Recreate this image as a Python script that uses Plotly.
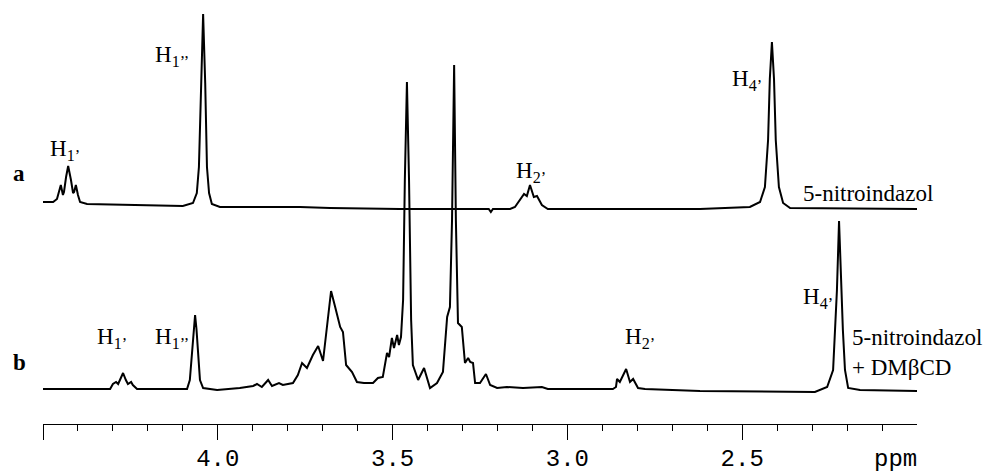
import plotly.graph_objects as go

# spectrum a: 5-nitroindazol (ppm, intensity relative to its own baseline)
ppm_a = [4.500, 4.471, 4.460, 4.454, 4.449, 4.443, 4.440, 4.434, 4.428, 4.420,
         4.414, 4.411, 4.406, 4.400, 4.394, 4.374, 4.243, 4.100, 4.071, 4.060,
         4.054, 4.048, 4.042, 4.036, 4.031, 4.025, 4.017, 3.994, 3.765, 3.679,
         3.479, 3.225, 3.219, 3.213, 3.164, 3.150, 3.130, 3.124, 3.116, 3.107,
         3.096, 3.087, 3.073, 3.056, 2.907, 2.621, 2.478, 2.449, 2.435, 2.426,
         2.421, 2.415, 2.409, 2.404, 2.395, 2.383, 2.363, 2.000]
int_a = [7, 7, 10, 17, 24, 14, 17, 32, 43, 29,
         16, 17, 24, 14, 7, 5, 4, 3, 6, 16,
         42, 126, 195, 126, 42, 16, 5, 2, 2, 1,
         0, 0, -3, 0, 0, 2, 12, 15, 13, 24,
         12, 13, 4, 0, 0, 0, 2, 7, 22, 69,
         130, 167, 130, 69, 22, 6, 1, 0]

# spectrum b: 5-nitroindazol + DMbetaCD
ppm_b = [4.500, 4.308, 4.300, 4.291, 4.285, 4.277, 4.271, 4.263, 4.257, 4.248,
         4.243, 4.231, 4.088, 4.080, 4.075, 4.069, 4.065, 4.061, 4.055, 4.051,
         4.042, 4.002, 3.937, 3.899, 3.888, 3.874, 3.856, 3.845, 3.825, 3.814,
         3.785, 3.771, 3.759, 3.745, 3.728, 3.713, 3.699, 3.688, 3.676, 3.665,
         3.650, 3.642, 3.633, 3.616, 3.602, 3.582, 3.556, 3.542, 3.528, 3.516,
         3.510, 3.502, 3.496, 3.487, 3.482, 3.476, 3.470, 3.465, 3.459, 3.453,
         3.447, 3.442, 3.427, 3.410, 3.393, 3.373, 3.356, 3.344, 3.336, 3.330,
         3.324, 3.319, 3.313, 3.302, 3.293, 3.284, 3.278, 3.270, 3.264, 3.250,
         3.233, 3.221, 3.201, 3.173, 3.127, 3.073, 3.056, 2.870, 2.861, 2.858,
         2.850, 2.832, 2.821, 2.812, 2.798, 2.778, 2.621, 2.292, 2.257, 2.240,
         2.235, 2.229, 2.223, 2.217, 2.212, 2.206, 2.197, 2.163, 2.000]
int_b = [0, 0, 5, 7, 5, 11, 16, 9, 5, 7,
         4, 0, 0, 9, 30, 60, 74, 60, 30, 9,
         1, -1, 1, 3, 5, 2, 9, 3, 6, 4,
         6, 14, 26, 21, 34, 43, 28, 59, 98, 83,
         62, 57, 24, 17, 7, 6, 6, 11, 12, 36,
         32, 51, 41, 54, 44, 52, 89, 209, 307, 209,
         69, 24, 9, 21, 1, 6, 17, 72, 82, 169,
         324, 169, 66, 62, 26, 31, 27, 26, 6, 6,
         15, 4, 1, 2, 1, 2, 0, 0, 2, 10,
         7, 20, 7, 10, 1, 0, -2, -3, 2, 19,
         59, 99, 168, 99, 59, 19, 1, -1, -2]

major_ticks = [4.5, 4.0, 3.5, 3.0, 2.5]
major_labels = ["", "4.0", "3.5", "3.0", "2.5"]
minor_ticks = [4.4, 4.3, 4.2, 4.1, 3.9, 3.8, 3.7, 3.6, 3.4, 3.3, 3.2, 3.1,
               2.9, 2.8, 2.7, 2.6, 2.4, 2.3, 2.2, 2.1]

# vertical offsets of the stacked spectra
OFFSET_A = 215
OFFSET_B = 35

W, H = 990, 474
L, R, T, B = 43, 73, 0, 50
PW, PH = W - L - R, H - T - B


def px(x):
    # pixel -> paper x
    return (x - L) / PW


def py(y):
    # pixel -> paper y
    return (H - B - y) / PH


fig = go.Figure()
fig.add_trace(go.Scatter(x=ppm_a, y=[v + OFFSET_A for v in int_a], mode="lines",
                         line=dict(color="black", width=2), showlegend=False))
fig.add_trace(go.Scatter(x=ppm_b, y=[v + OFFSET_B for v in int_b], mode="lines",
                         line=dict(color="black", width=2), showlegend=False))

serif = "Liberation Serif, Times New Roman, serif"
mono = "Liberation Mono, Courier New, monospace"
labels = [
    ("<b>a</b>", 11, 173),
    ("<b>b</b>", 11, 362),
    ("H<sub>1’</sub>", 48, 150),
    ("H<sub>1’’</sub>", 153, 56),
    ("H<sub>2’</sub>", 514, 172),
    ("H<sub>4’</sub>", 730, 80),
    ("5-nitroindazol", 801, 193),
    ("H<sub>1’</sub>", 95, 338),
    ("H<sub>1’’</sub>", 153, 338),
    ("H<sub>2’</sub>", 623, 338),
    ("H<sub>4’</sub>", 801, 298),
    ("5-nitroindazol<br>+ DMβCD", 850, 352),
]
for text, x, y in labels:
    fig.add_annotation(text=text, xref="paper", yref="paper", x=px(x), y=py(y),
                       xanchor="left", yanchor="middle", showarrow=False,
                       align="left", font=dict(family=serif, size=23, color="black"))

fig.add_annotation(text="ppm", xref="paper", yref="paper", x=px(919), y=py(459),
                   xanchor="right", yanchor="middle", showarrow=False,
                   font=dict(family=mono, size=24, color="black"))

fig.update_layout(
    width=W, height=H,
    margin=dict(l=L, r=R, t=T, b=B),
    paper_bgcolor="white", plot_bgcolor="white",
    xaxis=dict(
        range=[4.5, 2.0], showgrid=False, zeroline=False, automargin=False,
        showline=True, linecolor="black", linewidth=1.3,
        tickmode="array", tickvals=major_ticks, ticktext=major_labels,
        ticks="outside", ticklen=15, tickwidth=1.3, tickcolor="black",
        ticklabelstandoff=-3,
        tickfont=dict(family=mono, size=24, color="black"),
        minor=dict(tickmode="array", tickvals=minor_ticks, ticks="outside",
                   ticklen=6, tickwidth=1.3, tickcolor="black"),
    ),
    yaxis=dict(range=[0, PH], visible=False, automargin=False),
)

# drop the default page margin so the figure fills the window exactly
fig.write_html("out.html", config={"displayModeBar": False},
               post_script="document.body.style.margin = '0';")
